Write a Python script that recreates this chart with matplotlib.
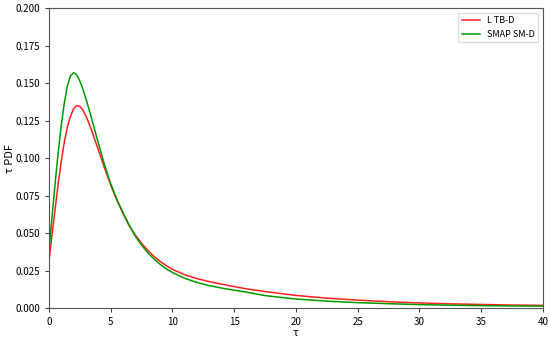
import numpy as np
import matplotlib
matplotlib.use('Agg')
import matplotlib.pyplot as plt

plt.rcParams['font.family'] = ['Noto Sans CJK SC', 'DejaVu Sans']

tau = [0, 0.25, 0.5, 0.75, 1.0, 1.25, 1.5, 1.75, 2.0, 2.25, 2.5, 2.75, 3.0, 3.25,
       3.5, 3.75, 4.0, 4.5, 5.0, 5.5, 6.0, 6.5, 7.0, 7.5, 8.0, 8.5, 9.0, 9.5,
       10, 11, 12, 13, 14, 15, 16, 17.5, 20, 22.5, 25, 27.5, 30, 32.5, 35, 37.5, 40]
# L TB-D
pdf_ltb = [0.031, 0.049, 0.066, 0.083, 0.098, 0.111, 0.121, 0.128, 0.1330, 0.1350,
           0.1345, 0.1320, 0.1280, 0.1230, 0.1175, 0.1115, 0.1055, 0.0935, 0.0820,
           0.0720, 0.0630, 0.0548, 0.0487, 0.0432, 0.0385, 0.0345, 0.0311, 0.0283,
           0.0258, 0.0222, 0.0196, 0.0176, 0.0159, 0.0143, 0.0128, 0.0110, 0.0084,
           0.0066, 0.0053, 0.0042, 0.0034, 0.0028, 0.0024, 0.0020, 0.0018]
# SMAP SM-D
pdf_smap = [0.038, 0.061, 0.083, 0.104, 0.122, 0.137, 0.1485, 0.1550, 0.1570, 0.1555,
            0.1515, 0.1460, 0.1395, 0.1325, 0.1250, 0.1175, 0.1100, 0.0955, 0.0830,
            0.0725, 0.0635, 0.0553, 0.0478, 0.0420, 0.0370, 0.0328, 0.0292, 0.0262,
            0.0237, 0.0198, 0.0170, 0.0149, 0.0133, 0.0119, 0.0106, 0.0083, 0.0060,
            0.0046, 0.0036, 0.0029, 0.0023, 0.0019, 0.0016, 0.0014, 0.0013]

fig = plt.figure(figsize=(5.5, 3.4), dpi=100)
ax = fig.add_axes([0.089, 0.094, 0.898, 0.882])
ax.plot(tau, pdf_ltb, color='#ff2020', lw=1.1, label='L TB-D')
ax.plot(tau, pdf_smap, color='#009a00', lw=1.1, label='SMAP SM-D')
ax.set_xlim(0, 40)
ax.set_ylim(0, 0.2)
ax.set_xticks(np.arange(0, 41, 5))
yt = np.arange(0, 0.201, 0.025)
ax.set_yticks(yt)
ax.set_yticklabels(['%.3f' % v for v in yt])
ax.tick_params(labelsize=7, length=3, color='#444444')
for s in ax.spines.values():
    s.set_color('#555555')
ax.set_xlabel('τ', fontsize=8, labelpad=1)
ax.set_ylabel('τ PDF', fontsize=8)
ax.yaxis.set_label_coords(-0.068, 0.5)
ax.legend(loc='upper right', fontsize=6.5, framealpha=1, edgecolor='#dddddd',
          handlelength=2.0)
fig.savefig('out.png')
